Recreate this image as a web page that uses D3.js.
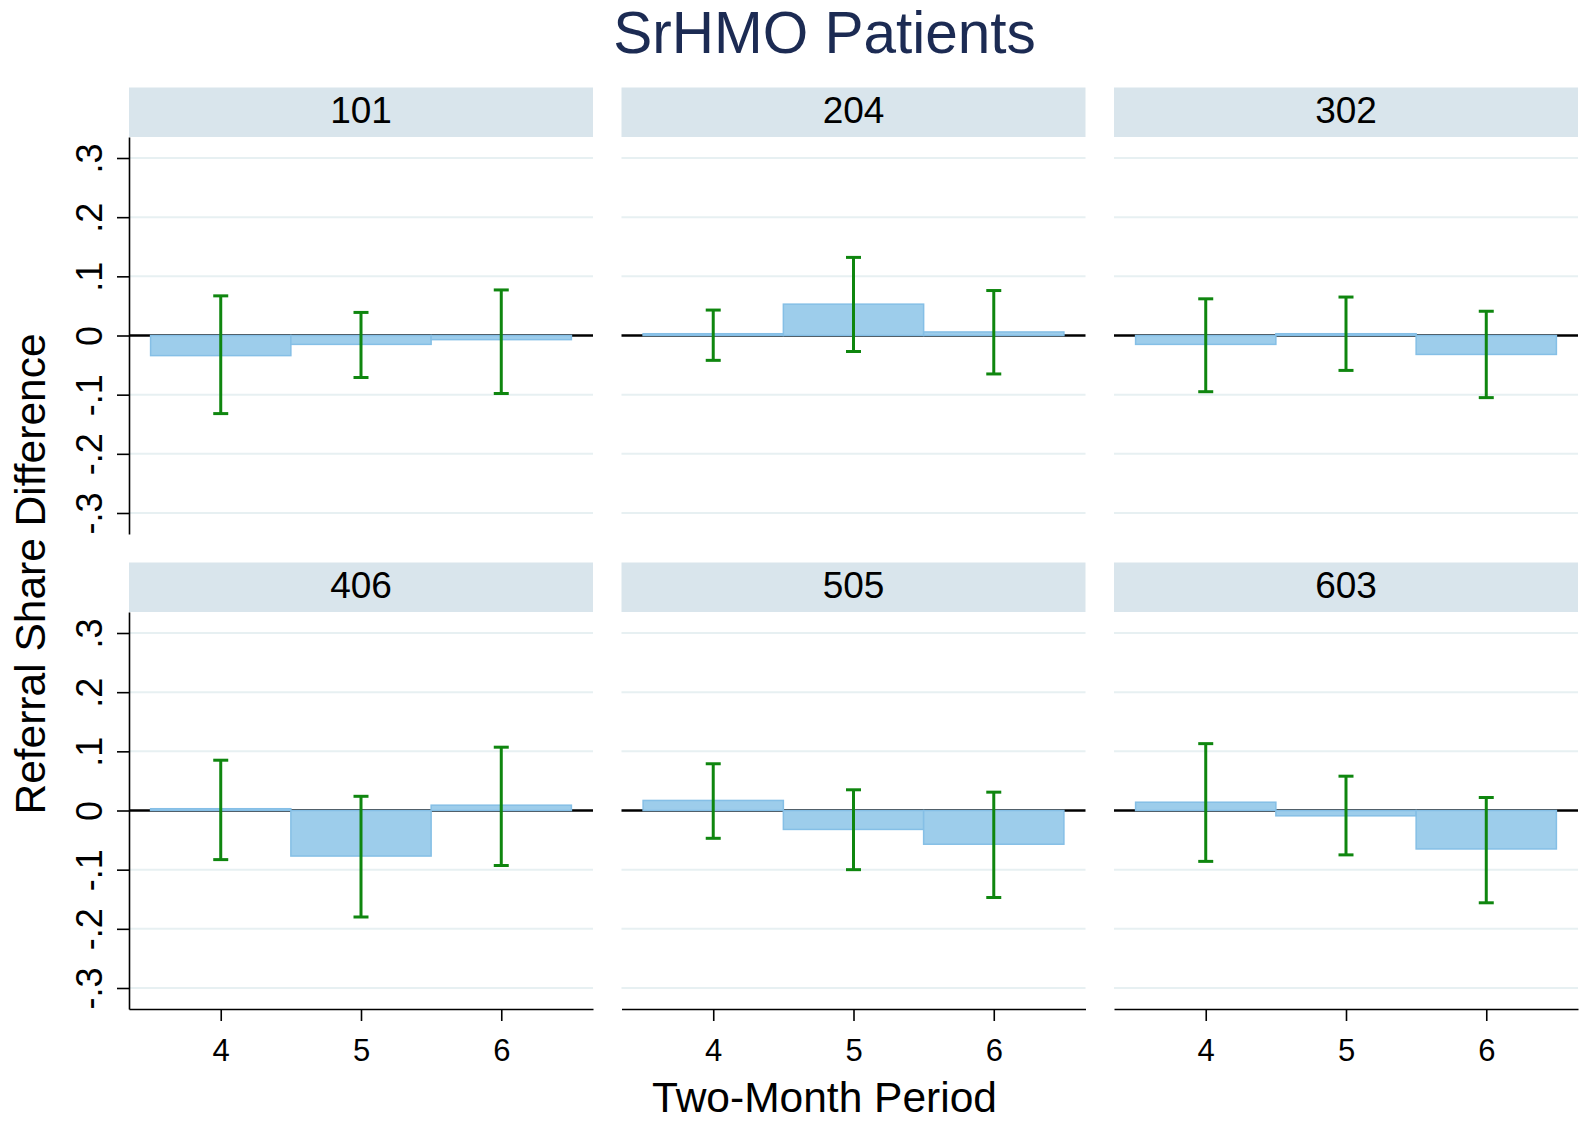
<!DOCTYPE html>
<html>
<head>
<meta charset="utf-8">
<script src="https://cdn.jsdelivr.net/npm/d3@7"></script>
<style>
  body { margin: 0; background: #fff; }
  text { font-family: "Liberation Sans", Arial, sans-serif; }
</style>
</head>
<body>
<svg id="chart" width="1584" height="1121"></svg>
<script>
"use strict";

const TITLE = "SrHMO Patients";
const Y_TITLE = "Referral Share Difference";
const X_TITLE = "Two-Month Period";

const panels = ["101", "204", "302", "406", "505", "603"];
const periods = [4, 5, 6];
const yTicks = [-0.3, -0.2, -0.1, 0, 0.1, 0.2, 0.3];
const yTickLabels = ["-.3", "-.2", "-.1", "0", ".1", ".2", ".3"];

// Point estimates per panel, for periods 4, 5, 6.
const diffs = [
    [-0.034, -0.015, -0.007],
    [0.003, 0.053, 0.006],
    [-0.015, 0.003, -0.032],
    [0.003, -0.077, 0.009],
    [0.017, -0.032, -0.057],
    [0.014, -0.009, -0.065]
];
// Confidence interval bounds.
const ciLow = [
    [-0.132, -0.071, -0.098],
    [-0.042, -0.027, -0.065],
    [-0.095, -0.059, -0.105],
    [-0.083, -0.180, -0.093],
    [-0.047, -0.100, -0.147],
    [-0.086, -0.075, -0.156]
];
const ciHigh = [
    [0.067, 0.039, 0.077],
    [0.043, 0.132, 0.076],
    [0.062, 0.065, 0.041],
    [0.085, 0.024, 0.107],
    [0.079, 0.035, 0.031],
    [0.113, 0.058, 0.022]
];

// Layout
const COL_X = [129, 621.5, 1114];
const ROW_Y = [137, 612];
const PLOT_W = 464;
const PLOT_H = 397;
const STRIP_H = 49.5;
const CAP_W = 15;

const BAR_FILL = "#9dcdeb";
const BAR_STROKE = "#85bfe6";
const CI_COLOR = "#0f860f";
const GRID_COLOR = "#e7f0f2";
const STRIP_FILL = "#d9e5ec";

const svg = d3.select("#chart");

const x = d3.scaleLinear().domain([3.346, 6.654]).range([0, PLOT_W]);
const y = d3.scaleLinear().domain([-0.3355, 0.3355]).range([PLOT_H, 0]);

// Title
svg.append("text")
    .attr("x", 824.5)
    .attr("y", 53)
    .attr("text-anchor", "middle")
    .style("font-size", "58.5px")
    .style("fill", "#1c2b53")
    .text(TITLE);

panels.forEach(function (name, i) {
    let col = i % 3;
    let row = Math.floor(i / 3);
    let g = svg.append("g")
        .attr("transform", "translate(" + COL_X[col] + "," + ROW_Y[row] + ")");

    // Strip with the panel label.
    g.append("rect")
        .attr("x", 0)
        .attr("y", -STRIP_H)
        .attr("width", PLOT_W)
        .attr("height", STRIP_H)
        .style("fill", STRIP_FILL);
    g.append("text")
        .attr("x", PLOT_W / 2)
        .attr("y", -STRIP_H + 35.3)
        .attr("text-anchor", "middle")
        .style("font-size", "37px")
        .style("fill", "#000")
        .text(name);

    // Gridlines.
    g.selectAll(".grid")
        .data(yTicks.filter(d => d !== 0))
        .enter().append("line")
        .attr("class", "grid")
        .attr("x1", 0)
        .attr("x2", PLOT_W)
        .attr("y1", d => y(d))
        .attr("y2", d => y(d))
        .style("stroke", GRID_COLOR)
        .style("stroke-width", 2);

    // Zero line.
    g.append("line")
        .attr("x1", 0)
        .attr("x2", PLOT_W)
        .attr("y1", y(0))
        .attr("y2", y(0))
        .style("stroke", "#000")
        .style("stroke-width", 2.5);

    // Bars, each one period wide.
    g.selectAll(".bar")
        .data(periods)
        .enter().append("rect")
        .attr("class", "bar")
        .attr("x", d => x(d - 0.5))
        .attr("width", d => x(d + 0.5) - x(d - 0.5))
        .attr("y", (d, j) => Math.min(y(diffs[i][j]), y(0)))
        .attr("height", (d, j) => Math.abs(y(diffs[i][j]) - y(0)))
        .style("fill", BAR_FILL)
        .style("stroke", BAR_STROKE)
        .style("stroke-width", 1.5);

    // Error bars.
    let ci = g.selectAll(".ci")
        .data(periods)
        .enter().append("g")
        .attr("class", "ci")
        .style("stroke", CI_COLOR)
        .style("stroke-width", 3);
    ci.append("line")
        .attr("x1", d => x(d))
        .attr("x2", d => x(d))
        .attr("y1", (d, j) => y(ciLow[i][j]))
        .attr("y2", (d, j) => y(ciHigh[i][j]));
    ci.append("line")
        .attr("x1", d => x(d) - CAP_W / 2)
        .attr("x2", d => x(d) + CAP_W / 2)
        .attr("y1", (d, j) => y(ciLow[i][j]))
        .attr("y2", (d, j) => y(ciLow[i][j]));
    ci.append("line")
        .attr("x1", d => x(d) - CAP_W / 2)
        .attr("x2", d => x(d) + CAP_W / 2)
        .attr("y1", (d, j) => y(ciHigh[i][j]))
        .attr("y2", (d, j) => y(ciHigh[i][j]));

    // Y axis on the first column only.
    if (col === 0) {
        let yAxis = g.append("g")
            .call(d3.axisLeft(y)
                .tickValues(yTicks)
                .tickFormat((d, k) => yTickLabels[k])
                .tickSize(12)
                .tickSizeOuter(0));
        yAxis.select(".domain").style("stroke-width", 1.6);
        yAxis.selectAll(".tick line").style("stroke-width", 1.6);
        yAxis.selectAll(".tick text")
            .attr("x", 0)
            .attr("dy", 0)
            .attr("text-anchor", "middle")
            .attr("transform", "translate(-27,0) rotate(-90)")
            .style("font-size", "36px")
            .style("font-family", "'Liberation Sans', Arial, sans-serif")
            .style("fill", "#000");
    }

    // X axis on the bottom row only.
    if (row === 1) {
        let xAxis = g.append("g")
            .attr("transform", "translate(0," + PLOT_H + ")")
            .call(d3.axisBottom(x)
                .tickValues(periods)
                .tickFormat(d3.format("d"))
                .tickSize(12)
                .tickSizeOuter(0));
        xAxis.select(".domain").style("stroke-width", 1.6);
        xAxis.selectAll(".tick line").style("stroke-width", 1.6);
        xAxis.selectAll(".tick text")
            .attr("y", 51.5)
            .attr("dy", 0)
            .style("font-size", "31px")
            .style("font-family", "'Liberation Sans', Arial, sans-serif")
            .style("fill", "#000");
    }
});

// Axis titles.
svg.append("text")
    .attr("transform", "translate(44.5,574) rotate(-90)")
    .attr("text-anchor", "middle")
    .style("font-size", "42.5px")
    .style("fill", "#000")
    .text(Y_TITLE);

svg.append("text")
    .attr("x", 824.5)
    .attr("y", 1112)
    .attr("text-anchor", "middle")
    .style("font-size", "42.5px")
    .style("fill", "#000")
    .text(X_TITLE);
</script>
</body>
</html>
